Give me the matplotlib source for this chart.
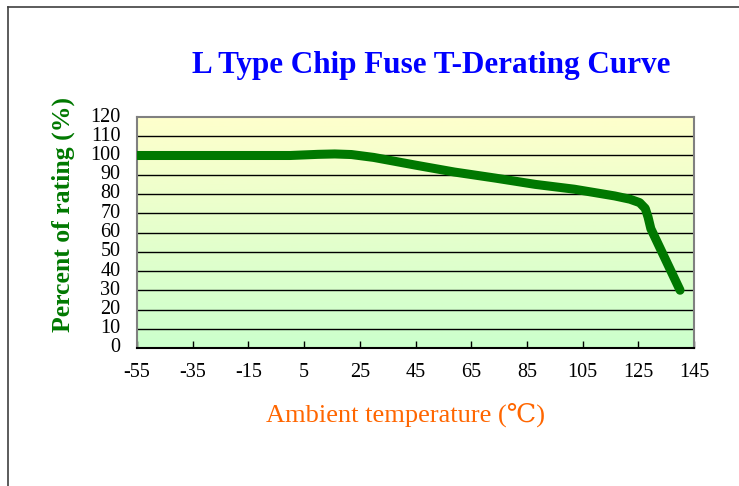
import numpy as np
import matplotlib
matplotlib.use("Agg")
import matplotlib.pyplot as plt
from matplotlib.lines import Line2D
from matplotlib.colors import LinearSegmentedColormap

# Data
temps = [-55, -20, 0, 10, 16, 22, 30, 45, 59, 73.5, 88, 102, 116.5, 122, 125.5, 127.5, 128.5, 129.5, 140]
percent = [100, 100, 100, 100.6, 100.8, 100.5, 99, 95, 91.4, 88.3, 85, 82.5, 79, 77.3, 75.5, 72.5, 68, 62, 30]
xticks = [-55, -35, -15, 5, 25, 45, 65, 85, 105, 125, 145]
yticks = list(range(0, 121, 10))

serif = ['Liberation Serif', 'DejaVu Serif']

fig = plt.figure(figsize=(7.39, 4.86), dpi=100)
fig.patch.set_facecolor('white')

# figure border (left and top)
fig.add_artist(Line2D([8/739, 8/739], [0, 1 - 7/486], transform=fig.transFigure, color='#404040', lw=1.2))
fig.add_artist(Line2D([8/739, 1], [1 - 7/486, 1 - 7/486], transform=fig.transFigure, color='#404040', lw=1.2))

ax = fig.add_axes([137/739, 1 - 348/486, (694-137)/739, (348-117)/486])

cmap = LinearSegmentedColormap.from_list('bg', ['#ccffcc', '#ffffcc'])
grad = np.linspace(0, 1, 256).reshape(-1, 1)
ax.imshow(grad, aspect='auto', cmap=cmap, origin='lower',
          extent=[0, 1, 0, 1], transform=ax.transAxes, zorder=0)

ax.set_xlim(-55, 145)
ax.set_ylim(0, 120)
for y in yticks[1:-1]:
    ax.axhline(y, color='black', lw=1.0, zorder=1)

ax.plot(temps, percent, color='#007800', lw=6.5, solid_capstyle='round',
        solid_joinstyle='round', zorder=3)

ax.set_xticks(xticks)
ax.set_yticks(yticks)
ax.set_xticklabels([str(t) for t in xticks], fontfamily=serif, fontsize=14.5)
ax.set_yticklabels([str(t) for t in yticks], fontfamily=serif, fontsize=14.5)
ax.tick_params(axis='x', direction='in', length=5, width=1, pad=11, color='black')
ax.tick_params(axis='y', length=0, pad=12)
for lab in ax.get_yticklabels():
    lab.set_verticalalignment('center')

for s in ['left', 'top', 'right']:
    ax.spines[s].set_color('#808080')
    ax.spines[s].set_linewidth(1.5)
ax.spines['bottom'].set_color('black')
ax.spines['bottom'].set_linewidth(1.5)

fig.text(431/739, 1 - 65/486, 'L Type Chip Fuse T-Derating Curve', color='#0000ff',
         fontsize=22.4, fontweight='bold', fontfamily=serif, ha='center', va='center')
fig.text(63/739, 1 - 214/486, 'Percent of rating (%)', color='#007800',
         fontsize=18.5, fontweight='bold', fontfamily=serif, ha='center', va='center', rotation=90)
fig.text(405/739, 1 - 415/486, 'Ambient temperature (\u2103)', color='#ff6600',
         fontsize=19, fontfamily=serif, ha='center', va='center')

fig.savefig('out.png', dpi=100)
